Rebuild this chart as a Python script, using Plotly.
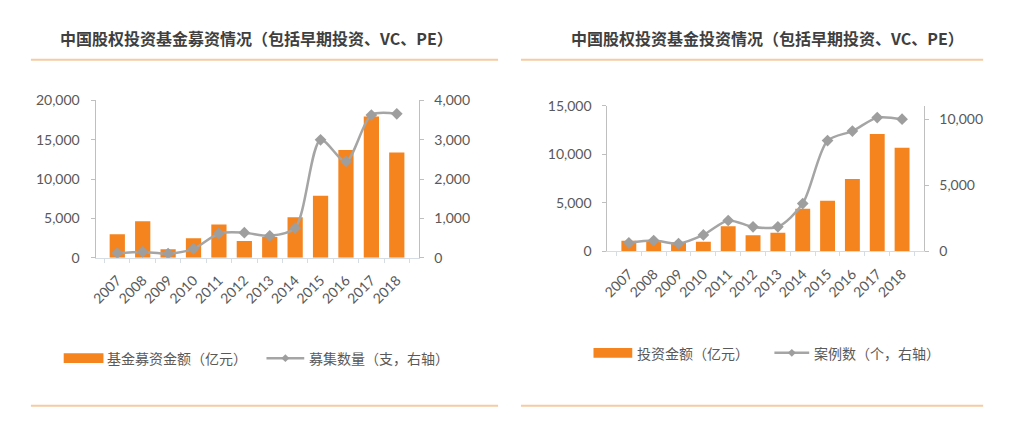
import plotly.graph_objects as go

years = ["2007", "2008", "2009", "2010", "2011", "2012", "2013", "2014", "2015", "2016", "2017", "2018"]

# Left panel: fundraising
raise_amount = [3000, 4650, 1100, 2500, 4250, 2150, 2650, 5150, 7900, 13700, 17950, 13400]   # 亿元
raise_count = [120, 150, 110, 230, 620, 640, 560, 760, 3000, 2450, 3630, 3660]               # 支

# Right panel: investment
invest_amount = [1100, 1000, 950, 1000, 2600, 1680, 1930, 4400, 5230, 7480, 12100, 10700]    # 亿元
invest_count = [650, 820, 600, 1250, 2340, 1860, 1860, 3620, 8380, 9100, 10120, 10000]       # 个

title_left = "中国股权投资基金募资情况（包括早期投资、VC、PE）"
title_right = "中国股权投资基金投资情况（包括早期投资、VC、PE）"
legend_left = ["基金募资金额（亿元）", "募集数量（支，右轴）"]
legend_right = ["投资金额（亿元）", "案例数（个，右轴）"]

OFF = 8            # page body margin of the viewer (keeps the page exactly window-sized)
W, H = 1016 - 2 * OFF, 437 - 2 * OFF
BAR = "#F5841F"
LINE = "#A5A5A5"
TXT = "#595959"
AX = "#BFBFBF"
XAX = "#D5DCE4"
RULE = "#F5CBA0"
CJK = "Noto Sans CJK SC"
NUM = "Lato"


def px(x):
    return (x - OFF) / W


def py(y):
    return 1 - (y - OFF) / H


fig = go.Figure()

fig.add_trace(go.Bar(x=years, y=raise_amount, marker=dict(color=BAR, line=dict(width=0)),
                     xaxis="x", yaxis="y", showlegend=False))
fig.add_trace(go.Scatter(x=years, y=raise_count, mode="lines+markers",
                         line=dict(color=LINE, width=2.5, shape="spline", smoothing=0.8),
                         marker=dict(symbol="diamond", size=9, color="#9E9E9E"),
                         xaxis="x", yaxis="y2", showlegend=False))
fig.add_trace(go.Bar(x=years, y=invest_amount, marker=dict(color=BAR, line=dict(width=0)),
                     xaxis="x2", yaxis="y3", showlegend=False))
fig.add_trace(go.Scatter(x=years, y=invest_count, mode="lines+markers",
                         line=dict(color=LINE, width=2.5, shape="spline", smoothing=0.8),
                         marker=dict(symbol="diamond", size=9, color="#9E9E9E"),
                         xaxis="x2", yaxis="y4", showlegend=False))

xcommon = dict(type="category", showgrid=False, showline=True, linecolor=XAX, linewidth=1,
               ticks="outside", tickson="boundaries", ticklen=4, tickcolor=XAX,
               tickangle=-45, tickfont=dict(family=NUM, size=14, color=TXT),
               ticklabelstandoff=8, fixedrange=True, zeroline=False)
ycommon = dict(showgrid=False, showline=True, linecolor=AX, linewidth=1, ticks="outside",
               ticklen=4, tickcolor=AX, tickformat=",d", zeroline=False,
               tickfont=dict(family=NUM, size=14, color=TXT), ticklabelstandoff=8)

Lb, Lt = py(259), py(95)
Rb, Rt = py(252.3), py(100.7)

fig.update_layout(
    width=W, height=H,
    margin=dict(l=0, r=0, t=0, b=0),
    paper_bgcolor="white", plot_bgcolor="white",
    bargap=0.4,
    showlegend=False,
    xaxis=dict(domain=[px(90), px(415)], anchor="y", **xcommon),
    yaxis=dict(domain=[Lb, Lt], anchor="x", range=[0, 20000], dtick=5000, **ycommon),
    yaxis2=dict(overlaying="y", side="right", anchor="x", range=[0, 4000], dtick=1000, **ycommon),
    xaxis2=dict(domain=[px(605), px(923)], anchor="y3", **xcommon),
    yaxis3=dict(domain=[Rb, Rt], anchor="x2", range=[0, 15000], dtick=5000, **ycommon),
    yaxis4=dict(overlaying="y3", side="right", anchor="x2", range=[0, 11000], dtick=5000, **ycommon),
)

shapes = []
annotations = []

# titles and rules
for title, cx, x0, x1 in [(title_left, 252, 25, 495), (title_right, 766, 518, 983)]:
    annotations.append(dict(text="<b>" + title + "</b>", x=px(cx), y=py(30), xref="paper", yref="paper",
                            xanchor="center", yanchor="middle", showarrow=False,
                            font=dict(family=CJK, size=16, color="#3F3F3F")))
    for yy in (52.5, 413):
        shapes.append(dict(type="line", xref="paper", yref="paper", x0=px(x0), x1=px(x1),
                           y0=py(yy), y1=py(yy), line=dict(color=RULE, width=2)))

# manual legends
for labels, bx0, bx1, tx1, lx0, lx1, tx2, ly in [
    (legend_left, 58, 98, 100, 262, 300, 303, 363.5),
    (legend_right, 591, 630, 633, 773, 808, 811, 358),
]:
    shapes.append(dict(type="rect", xref="paper", yref="paper", x0=px(bx0), x1=px(bx1),
                       y0=py(ly + 5), y1=py(ly - 5), fillcolor=BAR, line=dict(width=0)))
    shapes.append(dict(type="line", xref="paper", yref="paper", x0=px(lx0), x1=px(lx1),
                       y0=py(ly), y1=py(ly), line=dict(color=LINE, width=2.5)))
    cx = (lx0 + lx1) / 2
    d = 4
    path = "M {:.5f},{:.5f} L {:.5f},{:.5f} L {:.5f},{:.5f} L {:.5f},{:.5f} Z".format(
        px(cx), py(ly - d), px(cx + d), py(ly), px(cx), py(ly + d), px(cx - d), py(ly))
    shapes.append(dict(type="path", xref="paper", yref="paper", path=path,
                       fillcolor="#9E9E9E", line=dict(width=0)))
    for txt, tx in [(labels[0], tx1), (labels[1], tx2)]:
        annotations.append(dict(text=txt, x=px(tx), y=py(ly), xref="paper", yref="paper",
                                xanchor="left", yanchor="middle", showarrow=False,
                                font=dict(family=CJK, size=14, color=TXT)))

fig.update_layout(shapes=shapes, annotations=annotations)

fig.write_html("out.html")
